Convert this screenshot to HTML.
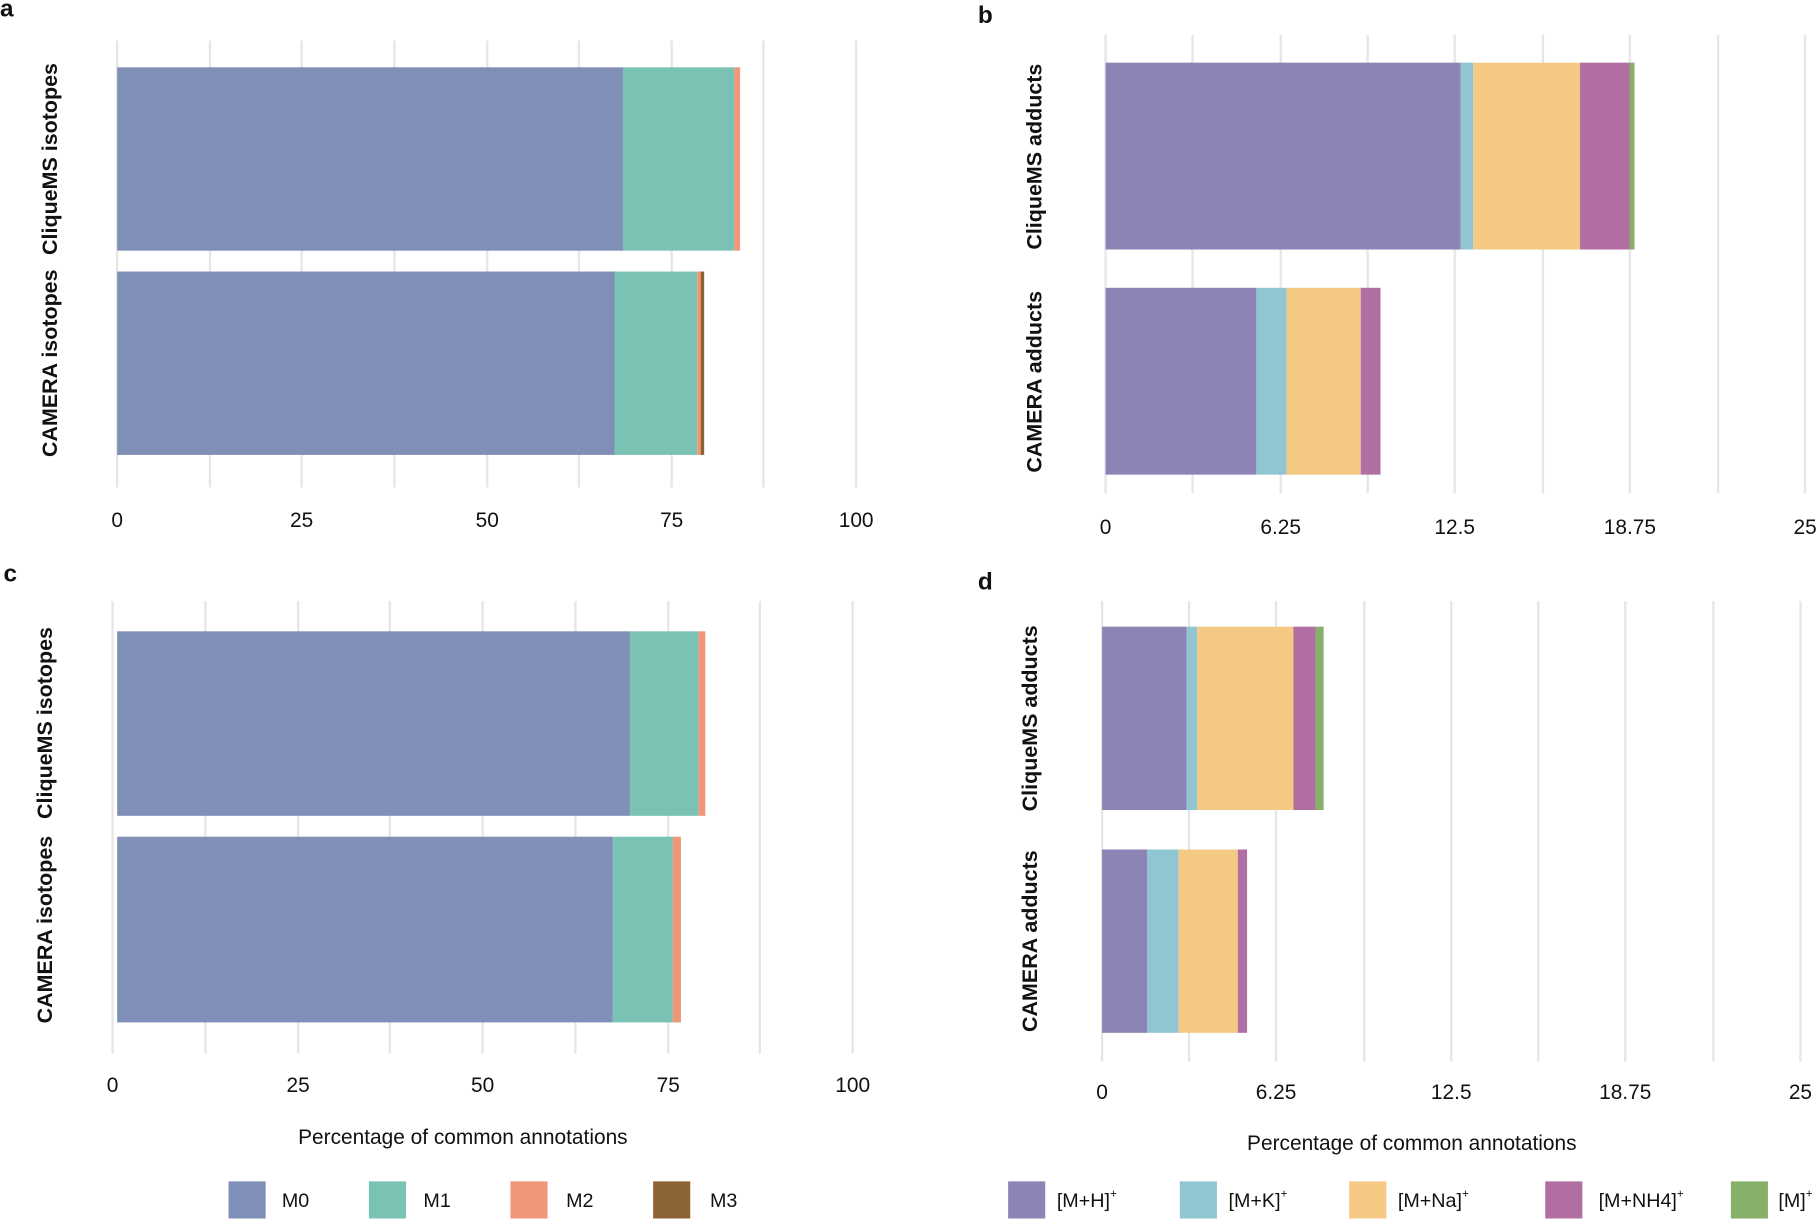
<!DOCTYPE html>
<html><head><meta charset="utf-8"><style>
html,body{margin:0;padding:0;background:#fff}
svg{display:block}
text{font-family:"Liberation Sans",Arial,sans-serif;fill:#111}
.t{font-size:18px;text-anchor:middle}
.yl{font-size:18.5px;font-weight:bold;text-anchor:middle}
.p{font-size:21px;font-weight:bold}
.lg{font-size:17px}
.g{stroke:#e6e6e6;stroke-width:2}
</style></head><body>
<svg width="1819" height="1222" viewBox="0 0 1568 1053" preserveAspectRatio="none" xmlns="http://www.w3.org/2000/svg">
<!-- panel a -->
<text class="p" x="0" y="14">a</text>
<g class="g">
<line x1="101" y1="35" x2="101" y2="420"/><line x1="181" y1="35" x2="181" y2="420"/><line x1="260" y1="35" x2="260" y2="420"/><line x1="340" y1="35" x2="340" y2="420"/><line x1="420" y1="35" x2="420" y2="420"/><line x1="499" y1="35" x2="499" y2="420"/><line x1="579" y1="35" x2="579" y2="420"/><line x1="658" y1="35" x2="658" y2="420"/><line x1="738" y1="35" x2="738" y2="420"/>
</g>
<rect x="101" y="58" width="436" height="158" fill="#7f8fb8"/><rect x="537" y="58" width="96" height="158" fill="#79c2b4"/><rect x="633" y="58" width="5" height="158" fill="#f0977a"/>
<rect x="101" y="234" width="429" height="158" fill="#7f8fb8"/><rect x="530" y="234" width="71" height="158" fill="#79c2b4"/><rect x="601" y="234" width="3" height="158" fill="#f0977a"/><rect x="604" y="234" width="3" height="158" fill="#8b6334"/>
<text class="t" x="101" y="454">0</text><text class="t" x="260" y="454">25</text><text class="t" x="420" y="454">50</text><text class="t" x="579" y="454">75</text><text class="t" x="738" y="454">100</text>
<text class="yl" transform="translate(49,137) rotate(-90)">CliqueMS isotopes</text>
<text class="yl" transform="translate(49,313) rotate(-90)">CAMERA isotopes</text>
<!-- panel b -->
<text class="p" x="843" y="20">b</text>
<g class="g">
<line x1="953" y1="30" x2="953" y2="425"/><line x1="1028" y1="30" x2="1028" y2="425"/><line x1="1104" y1="30" x2="1104" y2="425"/><line x1="1179" y1="30" x2="1179" y2="425"/><line x1="1254" y1="30" x2="1254" y2="425"/><line x1="1330" y1="30" x2="1330" y2="425"/><line x1="1405" y1="30" x2="1405" y2="425"/><line x1="1481" y1="30" x2="1481" y2="425"/><line x1="1556" y1="30" x2="1556" y2="425"/>
</g>
<rect x="953" y="54" width="306" height="161" fill="#8c84b5"/><rect x="1259" y="54" width="11" height="161" fill="#90c6d2"/><rect x="1270" y="54" width="92" height="161" fill="#f3c983"/><rect x="1362" y="54" width="43" height="161" fill="#b06ea3"/><rect x="1405" y="54" width="4" height="161" fill="#87b06a"/>
<rect x="953" y="248" width="130" height="161" fill="#8c84b5"/><rect x="1083" y="248" width="26" height="161" fill="#90c6d2"/><rect x="1109" y="248" width="64" height="161" fill="#f3c983"/><rect x="1173" y="248" width="17" height="161" fill="#b06ea3"/>
<text class="t" x="953" y="460">0</text><text class="t" x="1104" y="460">6.25</text><text class="t" x="1254" y="460">12.5</text><text class="t" x="1405" y="460">18.75</text><text class="t" x="1556" y="460">25</text>
<text class="yl" transform="translate(898,135) rotate(-90)">CliqueMS adducts</text>
<text class="yl" transform="translate(898,329) rotate(-90)">CAMERA adducts</text>
<!-- panel c -->
<text class="p" x="3" y="501">c</text>
<g class="g">
<line x1="97" y1="518" x2="97" y2="908"/><line x1="177" y1="518" x2="177" y2="908"/><line x1="257" y1="518" x2="257" y2="908"/><line x1="336" y1="518" x2="336" y2="908"/><line x1="416" y1="518" x2="416" y2="908"/><line x1="496" y1="518" x2="496" y2="908"/><line x1="576" y1="518" x2="576" y2="908"/><line x1="655" y1="518" x2="655" y2="908"/><line x1="735" y1="518" x2="735" y2="908"/>
</g>
<rect x="101" y="544" width="442" height="159" fill="#7f8fb8"/><rect x="543" y="544" width="59" height="159" fill="#79c2b4"/><rect x="602" y="544" width="6" height="159" fill="#f0977a"/>
<rect x="101" y="721" width="427" height="160" fill="#7f8fb8"/><rect x="528" y="721" width="52" height="160" fill="#79c2b4"/><rect x="580" y="721" width="7" height="160" fill="#f0977a"/>
<text class="t" x="97" y="941">0</text><text class="t" x="257" y="941">25</text><text class="t" x="416" y="941">50</text><text class="t" x="576" y="941">75</text><text class="t" x="735" y="941">100</text>
<text class="yl" transform="translate(45,623) rotate(-90)">CliqueMS isotopes</text>
<text class="yl" transform="translate(45,801) rotate(-90)">CAMERA isotopes</text>
<text class="t" x="399" y="986">Percentage of common annotations</text>
<!-- panel d -->
<text class="p" x="843" y="508">d</text>
<g class="g">
<line x1="950" y1="518" x2="950" y2="915"/><line x1="1025" y1="518" x2="1025" y2="915"/><line x1="1100" y1="518" x2="1100" y2="915"/><line x1="1176" y1="518" x2="1176" y2="915"/><line x1="1251" y1="518" x2="1251" y2="915"/><line x1="1326" y1="518" x2="1326" y2="915"/><line x1="1401" y1="518" x2="1401" y2="915"/><line x1="1477" y1="518" x2="1477" y2="915"/><line x1="1552" y1="518" x2="1552" y2="915"/>
</g>
<rect x="950" y="540" width="73" height="158" fill="#8c84b5"/><rect x="1023" y="540" width="9" height="158" fill="#90c6d2"/><rect x="1032" y="540" width="83" height="158" fill="#f3c983"/><rect x="1115" y="540" width="19" height="158" fill="#b06ea3"/><rect x="1134" y="540" width="7" height="158" fill="#87b06a"/>
<rect x="950" y="732" width="39" height="158" fill="#8c84b5"/><rect x="989" y="732" width="27" height="158" fill="#90c6d2"/><rect x="1016" y="732" width="51" height="158" fill="#f3c983"/><rect x="1067" y="732" width="8" height="158" fill="#b06ea3"/>
<text class="t" x="950" y="947">0</text><text class="t" x="1100" y="947">6.25</text><text class="t" x="1251" y="947">12.5</text><text class="t" x="1401" y="947">18.75</text><text class="t" x="1552" y="947">25</text>
<text class="yl" transform="translate(894,619) rotate(-90)">CliqueMS adducts</text>
<text class="yl" transform="translate(894,811) rotate(-90)">CAMERA adducts</text>
<text class="t" x="1217" y="991">Percentage of common annotations</text>
<!-- legends -->
<rect x="197" y="1018" width="32" height="32" fill="#7f8fb8"/><text class="lg" x="243" y="1040">M0</text>
<rect x="318" y="1018" width="32" height="32" fill="#79c2b4"/><text class="lg" x="365" y="1040">M1</text>
<rect x="440" y="1018" width="32" height="32" fill="#f0977a"/><text class="lg" x="488" y="1040">M2</text>
<rect x="563" y="1018" width="32" height="32" fill="#8b6334"/><text class="lg" x="612" y="1040">M3</text>
<rect x="869" y="1018" width="32" height="32" fill="#8c84b5"/><text class="lg" x="911" y="1040">[M+H]<tspan font-size="10" dy="-8">+</tspan></text>
<rect x="1017" y="1018" width="32" height="32" fill="#90c6d2"/><text class="lg" x="1059" y="1040">[M+K]<tspan font-size="10" dy="-8">+</tspan></text>
<rect x="1163" y="1018" width="32" height="32" fill="#f3c983"/><text class="lg" x="1205" y="1040">[M+Na]<tspan font-size="10" dy="-8">+</tspan></text>
<rect x="1332" y="1018" width="32" height="32" fill="#b06ea3"/><text class="lg" x="1378" y="1040">[M+NH4]<tspan font-size="10" dy="-8">+</tspan></text>
<rect x="1492" y="1018" width="32" height="32" fill="#87b06a"/><text class="lg" x="1533" y="1040">[M]<tspan font-size="10" dy="-8">+</tspan></text>
</svg>
</body></html>
